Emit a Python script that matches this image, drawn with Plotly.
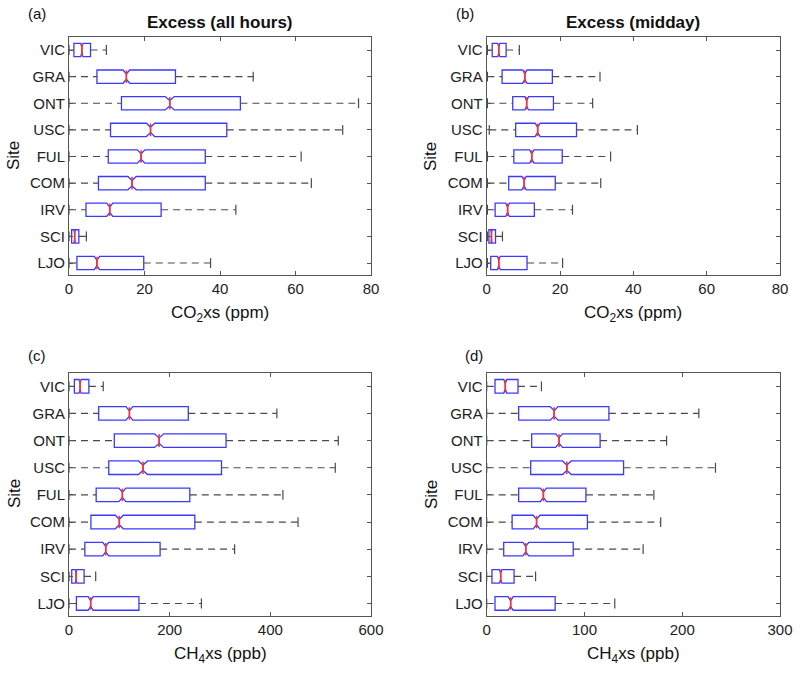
import plotly.graph_objects as go

sites = ["LJO", "SCI", "IRV", "COM", "FUL", "USC", "ONT", "GRA", "VIC"]

# Panel (a): CO2 excess, all hours (ppm)
a_lo = [0.0, 0.0, 0.0, 0.0, 0.0, 0.0, 0.0, 0.0, 0.0]
a_q1 = [2.1, 0.7, 4.5, 7.8, 10.4, 11.0, 13.9, 7.4, 1.3]
a_med = [7.4, 1.5, 10.8, 16.7, 19.1, 21.6, 26.7, 15.2, 3.4]
a_q3 = [19.8, 2.6, 24.4, 36.1, 36.1, 41.8, 45.4, 28.2, 5.7]
a_hi = [37.5, 4.6, 44.2, 64.2, 61.5, 72.5, 76.7, 48.8, 9.9]
a_notch = [0.7, 0.15, 0.8, 1.1, 1.0, 1.1, 1.2, 0.9, 0.3]

# Panel (b): CO2 excess, midday (ppm)
b_lo = [0.2, 0.2, 0.2, 0.2, 0.2, 0.7, 0.2, 0.2, 0.2]
b_q1 = [1.1, 0.6, 2.3, 6.0, 7.4, 7.9, 7.1, 4.2, 1.5]
b_med = [3.3, 1.3, 5.7, 10.2, 12.3, 13.9, 10.9, 10.4, 3.3]
b_q3 = [11.0, 2.4, 13.0, 18.7, 20.6, 24.5, 18.2, 17.9, 5.3]
b_hi = [20.7, 4.3, 23.4, 31.1, 33.8, 41.1, 28.9, 30.9, 8.9]
b_notch = [0.4, 0.1, 0.5, 0.6, 0.6, 0.7, 0.5, 0.6, 0.3]

# Panel (c): CH4 excess, all hours (ppb)
c_lo = [0.0, 0.0, 0.0, 0.0, 0.0, 0.0, 0.0, 0.0, 0.0]
c_q1 = [14.7, 5.4, 31.5, 43.5, 54, 79, 90, 59, 10.7]
c_med = [43, 14, 73, 100, 106, 147, 179, 120, 22]
c_q3 = [139, 30, 181, 250, 240, 303, 312, 237, 39.5]
c_hi = [263, 53, 329, 455, 425, 529, 535, 413, 68]
c_notch = [5, 1.5, 6, 8, 7, 9, 9, 7, 2]

# Panel (d): CH4 excess, midday (ppb)
d_lo = [0.0, 0.0, 0.0, 0.0, 0.0, 0.0, 0.0, 0.0, 0.0]
d_q1 = [8.5, 5.4, 17.4, 26, 32.7, 45, 46, 32.7, 8.5]
d_med = [24.5, 14.3, 40, 51, 58, 82, 74, 69, 19]
d_q3 = [70, 28, 88.5, 103, 101.5, 140, 116, 125, 32]
d_hi = [131, 50, 160, 178, 171, 234, 184, 217, 56]
d_notch = [2.6, 1.2, 3.0, 3.5, 3.2, 4.5, 3.5, 4.0, 1.5]

x_ranges = [[0, 80], [0, 80], [0, 600], [0, 300]]
x_dticks = [20, 20, 200, 100]

panels = [
    (a_lo, a_q1, a_med, a_q3, a_hi, a_notch),
    (b_lo, b_q1, b_med, b_q3, b_hi, b_notch),
    (c_lo, c_q1, c_med, c_q3, c_hi, c_notch),
    (d_lo, d_q1, d_med, d_q3, d_hi, d_notch),
]

BLUE = "#3a3aff"
RED = "#ff3030"
WHISK = "#4a4a4a"
FRAME = "#555555"
TXT = "#222222"
FONT = "Liberation Sans, Arial, sans-serif"

W, H = 800, 675

def px(x):
    return x / W

def py(y):
    return 1 - y / H

xdom = [[px(69), px(371)], [px(486.7), px(780)], [px(69), px(371)], [px(486.7), px(780)]]
ydom = [[py(275), py(36.7)], [py(275), py(36.7)], [py(615.7), py(372.7)], [py(615.7), py(372.7)]]

fig = go.Figure()

for i, (lo, q1, med, q3, hi, nsp) in enumerate(panels):
    xa = "x" if i == 0 else f"x{i+1}"
    ya = "y" if i == 0 else f"y{i+1}"
    # dashed whiskers
    wx, wy = [], []
    for s, l, a, b, h in zip(sites, lo, q1, q3, hi):
        wx += [l, a, None, b, h, None]
        wy += [s, s, None, s, s, None]
    fig.add_trace(go.Scatter(x=wx, y=wy, mode="lines", xaxis=xa, yaxis=ya,
                             line=dict(color=WHISK, width=1.2, dash="7px,5px"),
                             hoverinfo="skip", showlegend=False))
    # whisker caps
    fig.add_trace(go.Scatter(x=lo + hi, y=sites + sites, mode="markers", xaxis=xa, yaxis=ya,
                             marker=dict(symbol="line-ns", size=7, color=WHISK,
                                         line=dict(color=WHISK, width=1.2)),
                             hoverinfo="skip", showlegend=False))
    # notched boxes
    fig.add_trace(go.Box(y=sites, q1=q1, median=med, q3=q3, lowerfence=q1, upperfence=q3,
                         notchspan=nsp, notched=True, notchwidth=0.3,
                         orientation="h", xaxis=xa, yaxis=ya, width=0.5,
                         whiskerwidth=0, boxpoints=False,
                         line=dict(color=BLUE, width=1.3), fillcolor="rgba(0,0,0,0)",
                         hoverinfo="skip", showlegend=False))
    # red median lines
    fig.add_trace(go.Scatter(x=med, y=sites, mode="markers", xaxis=xa, yaxis=ya,
                             marker=dict(symbol="line-ns", size=9, color=RED,
                                         line=dict(color=RED, width=1.6)),
                             hoverinfo="skip", showlegend=False))

layout = dict(
    width=W, height=H, paper_bgcolor="white", plot_bgcolor="white",
    margin=dict(l=0, r=0, t=0, b=0, pad=0, autoexpand=False), showlegend=False,
    font=dict(family=FONT, size=15, color=TXT),
)
for i in range(4):
    xk = "xaxis" if i == 0 else f"xaxis{i+1}"
    yk = "yaxis" if i == 0 else f"yaxis{i+1}"
    ya = "y" if i == 0 else f"y{i+1}"
    xa = "x" if i == 0 else f"x{i+1}"
    layout[xk] = dict(domain=xdom[i], range=x_ranges[i], dtick=x_dticks[i], anchor=ya,
                      automargin=False,
                      showline=True, linecolor=FRAME, linewidth=1, mirror="ticks",
                      ticks="inside", ticklen=4, tickcolor=FRAME, showgrid=False,
                      zeroline=False, tickfont=dict(size=15, color=TXT, family=FONT))
    layout[yk] = dict(domain=ydom[i], anchor=xa, type="category", automargin=False,
                      categoryorder="array", categoryarray=sites, range=[-0.45, 8.5],
                      showline=True, linecolor=FRAME, linewidth=1, mirror="ticks",
                      ticks="inside", ticklen=4, tickcolor=FRAME, showgrid=False,
                      zeroline=False, tickfont=dict(size=15, color=TXT, family=FONT))
fig.update_layout(**layout)

ann = []
def A(text, x, y, size, bold=False, rot=0):
    ann.append(dict(text=f"<b>{text}</b>" if bold else text, x=px(x), y=py(y),
                    xref="paper", yref="paper", showarrow=False, textangle=rot,
                    xanchor="center", yanchor="middle",
                    font=dict(size=size, color="#111111", family=FONT)))

A("Excess (all hours)", 220, 22, 17, bold=True)
A("Excess (midday)", 633, 22, 17, bold=True)
A("(a)", 37, 13, 15)
A("(b)", 465, 13, 15)
A("(c)", 37, 355, 15)
A("(d)", 474, 355, 15)
A("CO<sub>2</sub>xs (ppm)", 220, 314, 17)
A("CO<sub>2</sub>xs (ppm)", 633, 314, 17)
A("CH<sub>4</sub>xs (ppb)", 220, 655, 17)
A("CH<sub>4</sub>xs (ppb)", 633, 655, 17)
A("Site", 14, 156, 17, rot=-90)
A("Site", 431, 156, 17, rot=-90)
A("Site", 14, 494, 17, rot=-90)
A("Site", 431, 494, 17, rot=-90)
fig.update_layout(annotations=ann)

fig.write_html("out.html", config={"displayModeBar": False},
               post_script="document.body.style.margin='0px';")
